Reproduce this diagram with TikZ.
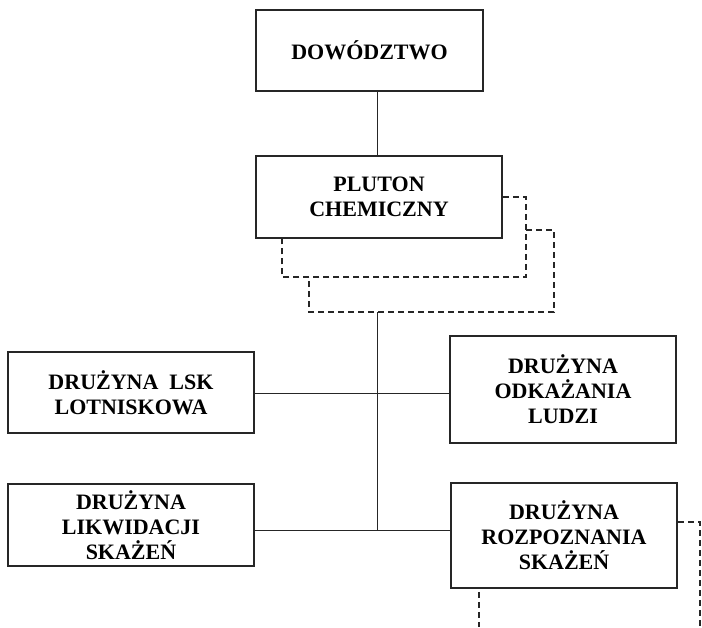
\documentclass[tikz,border=0pt]{standalone}
\usepackage{fontspec}
\setmainfont{Liberation Serif}
\usepackage{tikz}

\begin{document}
\begin{tikzpicture}[x=1pt, y=-1pt, unit/.style={rectangle, draw=black!85, line width=1.5pt, fill=white, align=center, inner sep=0pt, font=\bfseries\fontsize{22}{25}\selectfont}, link/.style={draw=black!85, line width=0.9pt}, duty/.style={draw=black!85, line width=1.2pt, dash pattern=on 6pt off 4pt}]

    \useasboundingbox (0,0) rectangle (702,627);

    %Nodes
    \node[unit, minimum width=227pt, minimum height=81pt](dow) at (369.5,50.5){DOWÓDZTWO};
    \node[unit, minimum width=246pt, minimum height=82pt](pluton) at (379,197){PLUTON\\CHEMICZNY};
    \node[unit, minimum width=246pt, minimum height=81pt](lsk) at (131,392.5){DRUŻYNA\ \ LSK\\LOTNISKOWA};
    \node[unit, minimum width=226pt, minimum height=107pt](odkaz) at (563,389.5){DRUŻYNA\\ODKAŻANIA\\LUDZI};
    \node[unit, minimum width=246pt, minimum height=82pt](likw) at (131,525){DRUŻYNA\\LIKWIDACJI\\SKAŻEŃ};
    \node[unit, minimum width=226pt, minimum height=105pt](rozp) at (564,535.5){DRUŻYNA\\ROZPOZNANIA\\SKAŻEŃ};

    %Coordinates
    \coordinate(top) at (377,312);
    \coordinate(bottom) at (377,530);
    \coordinate(mid) at (377,393);
    \coordinate(edge) at (700,522);
    \coordinate(down) at (479,627);

    %Lines
    \draw[link] (pluton.north -| top) -- (dow.south -| top);
    \draw[link] (top) -- (bottom);
    \draw[link] (mid -| lsk.east) -- (mid -| odkaz.west);
    \draw[link] (bottom -| likw.east) -- (bottom -| rozp.west);

    %Dashed lines
    \draw[duty] (pluton.east) -- (526,197) -- (526,277) -- (282,277) -- (282,238);
    \draw[duty] (526,230) -- (554,230) -- (554,312) -- (309,312) -- (309,278);
    \draw[duty] (rozp.east |- edge) -- (edge) -- (edge |- down);
    \draw[duty, dash phase=7pt] (rozp.south -| down) -- (down);

\end{tikzpicture}
\end{document}
